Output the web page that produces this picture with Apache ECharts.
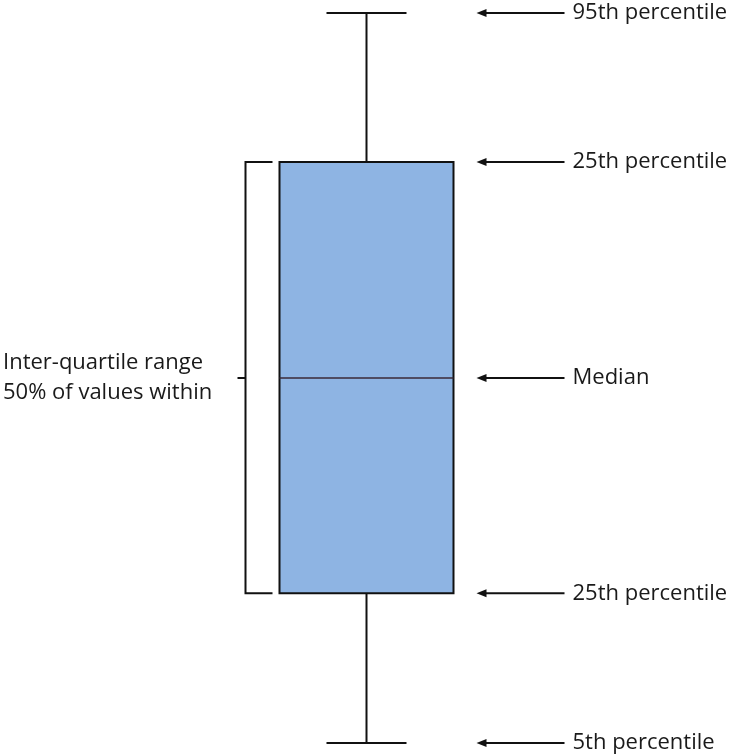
<!DOCTYPE html>
<html>
<head>
<meta charset="utf-8">
<script src="https://cdn.jsdelivr.net/npm/echarts@6/dist/echarts.min.js"></script>
<style>html,body{margin:0;padding:0;background:#fff}#c{width:733px;height:754px}</style>
</head>
<body>
<div id="c"></div>
<script>
// stats: 5th, 25th (lower quartile), median, upper quartile, 95th
var categories = ['Box'];
var statValues = [0, 20.5, 50, 79.6, 100];
var statLabels = ['5th percentile', '25th percentile', 'Median', '25th percentile', '95th percentile'];
var iqrLabel = ['Inter-quartile range', '50% of values within'];

var FONT = '"Open Sans", sans-serif';
var chart = echarts.init(document.getElementById('c'));

function renderBox(params, api) {
  var x = api.value(0);
  var v = [api.value(1), api.value(2), api.value(3), api.value(4), api.value(5)];
  var p = v.map(function (val) { return api.coord([x, val]); });
  var cx = p[0][0];
  var yLow = p[0][1], yQ1 = p[1][1], yMed = p[2][1], yQ3 = p[3][1], yHigh = p[4][1];
  var halfBox = 87, halfCap = 40;
  var stroke = { stroke: '#111', lineWidth: 2 };
  var children = [];
  // whiskers
  children.push({ type: 'line', shape: { x1: cx, y1: yHigh, x2: cx, y2: yQ3 }, style: stroke });
  children.push({ type: 'line', shape: { x1: cx, y1: yQ1, x2: cx, y2: yLow }, style: stroke });
  children.push({ type: 'line', shape: { x1: cx - halfCap, y1: yHigh, x2: cx + halfCap, y2: yHigh }, style: stroke });
  children.push({ type: 'line', shape: { x1: cx - halfCap, y1: yLow, x2: cx + halfCap, y2: yLow }, style: stroke });
  // box
  children.push({ type: 'rect', shape: { x: cx - halfBox, y: yQ3, width: halfBox * 2, height: yQ1 - yQ3 },
    style: { fill: '#8EB4E3', stroke: '#111', lineWidth: 2 } });
  children.push({ type: 'line', shape: { x1: cx - halfBox, y1: yMed, x2: cx + halfBox, y2: yMed },
    style: { stroke: '#3a2a38', lineWidth: 1.5 } });
  // bracket
  var bx = cx - 121;
  children.push({ type: 'polyline', shape: { points: [[cx - 94, yQ3], [bx, yQ3], [bx, yQ1], [cx - 94, yQ1]] },
    style: { stroke: '#111', lineWidth: 2, fill: null } });
  children.push({ type: 'line', shape: { x1: bx - 8, y1: yMed, x2: bx, y2: yMed }, style: stroke });
  // left label
  children.push({ type: 'text', x: 3, y: yMed, style: { text: iqrLabel.join('\n'), font: '22px ' + FONT,
    fill: '#1a1a1a', verticalAlign: 'middle', align: 'left', lineHeight: 30 } });
  // arrows and labels
  for (var i = 0; i < p.length; i++) {
    var y = p[i][1];
    var ax = cx + 110, ex = cx + 198;
    children.push({ type: 'line', shape: { x1: ax + 6, y1: y, x2: ex, y2: y }, style: stroke });
    children.push({ type: 'polygon', shape: { points: [[ax, y], [ax + 10, y - 4], [ax + 10, y + 4]] },
      style: { fill: '#111' } });
    children.push({ type: 'text', x: cx + 206, y: y, style: { text: statLabels[i], font: '22px ' + FONT,
      fill: '#1a1a1a', verticalAlign: 'middle', align: 'left' } });
  }
  return { type: 'group', children: children };
}

chart.setOption({
  animation: false,
  backgroundColor: '#fff',
  grid: { left: 0, right: 0, top: 13, bottom: 11 },
  xAxis: { type: 'category', data: categories, show: false },
  yAxis: { type: 'value', min: 0, max: 100, show: false },
  series: [{
    type: 'custom',
    renderItem: renderBox,
    clip: false,
    data: [[0].concat(statValues)]
  }]
});
</script>
</body>
</html>
